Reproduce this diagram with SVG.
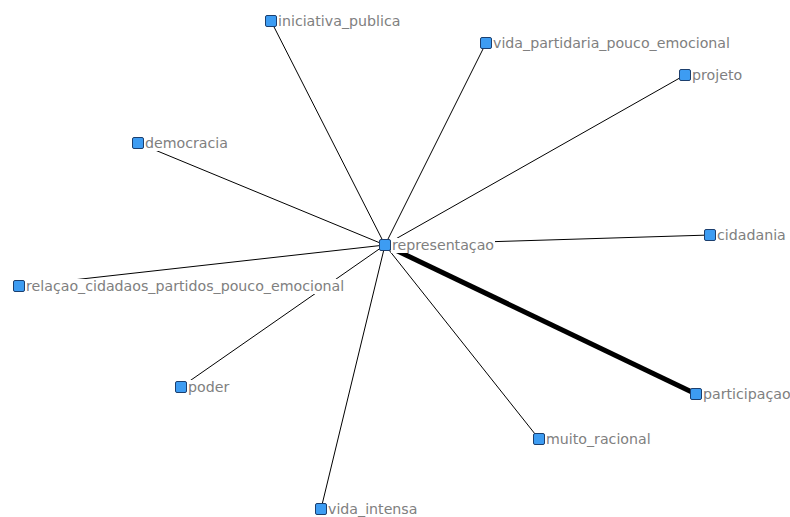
<svg xmlns="http://www.w3.org/2000/svg" width="790" height="517" viewBox="0 0 790 517">
  <style>
    .edge { stroke: #000; stroke-width: 1; fill: none; }
    .heavy { stroke-width: 5; }
    .node rect.box { fill: #3d9cf2; stroke: #1c3f6e; stroke-width: 1; }
    .node rect.bg { fill: #fff; }
    .node text { font-family: "DejaVu Sans", Verdana, sans-serif; font-size: 14.2px; fill: #808080; }
  </style>
  <rect width="790" height="517" fill="#fff"/>
  <g id="edges">
    <line class="edge" x1="385" y1="245" x2="271" y2="21"/>
    <line class="edge" x1="385" y1="245" x2="486" y2="43"/>
    <line class="edge" x1="385" y1="245" x2="685" y2="75"/>
    <line class="edge" x1="385" y1="245" x2="138" y2="143"/>
    <line class="edge" x1="385" y1="245" x2="710" y2="235"/>
    <line class="edge" x1="385" y1="245" x2="19" y2="286"/>
    <line class="edge" x1="385" y1="245" x2="181" y2="387"/>
    <line class="edge" x1="385" y1="245" x2="539" y2="439"/>
    <line class="edge" x1="385" y1="245" x2="321" y2="509"/>
    <line class="edge heavy" x1="385" y1="245" x2="696" y2="394"/>
  </g>
  <g id="n-representacao" class="node"><rect class="bg" x="391" y="238" width="104" height="15"/><rect class="box" x="379.5" y="239.5" width="11" height="11" rx="1.5"/><text x="392" y="250">representaçao</text></g>
  <g id="n-iniciativa_publica" class="node"><rect class="bg" x="277" y="14" width="124" height="15"/><rect class="box" x="265.5" y="15.5" width="11" height="11" rx="1.5"/><text x="278" y="26">iniciativa_publica</text></g>
  <g id="n-vida_partidaria" class="node"><rect class="bg" x="492" y="36" width="238" height="15"/><rect class="box" x="480.5" y="37.5" width="11" height="11" rx="1.5"/><text x="493" y="48">vida_partidaria_pouco_emocional</text></g>
  <g id="n-projeto" class="node"><rect class="bg" x="691" y="68" width="54" height="15"/><rect class="box" x="679.5" y="69.5" width="11" height="11" rx="1.5"/><text x="692" y="80">projeto</text></g>
  <g id="n-democracia" class="node"><rect class="bg" x="144" y="136" width="84" height="15"/><rect class="box" x="132.5" y="137.5" width="11" height="11" rx="1.5"/><text x="145" y="148">democracia</text></g>
  <g id="n-cidadania" class="node"><rect class="bg" x="716" y="228" width="70" height="15"/><rect class="box" x="704.5" y="229.5" width="11" height="11" rx="1.5"/><text x="717" y="240">cidadania</text></g>
  <g id="n-relacao" class="node"><rect class="bg" x="25" y="279" width="320" height="15"/><rect class="box" x="13.5" y="280.5" width="11" height="11" rx="1.5"/><text x="26" y="291">relaçao_cidadaos_partidos_pouco_emocional</text></g>
  <g id="n-poder" class="node"><rect class="bg" x="187" y="380" width="45" height="15"/><rect class="box" x="175.5" y="381.5" width="11" height="11" rx="1.5"/><text x="188" y="392">poder</text></g>
  <g id="n-participacao" class="node"><rect class="bg" x="702" y="387" width="88" height="15"/><rect class="box" x="690.5" y="388.5" width="11" height="11" rx="1.5"/><text x="703" y="399">participaçao</text></g>
  <g id="n-muito_racional" class="node"><rect class="bg" x="545" y="432" width="108" height="15"/><rect class="box" x="533.5" y="433.5" width="11" height="11" rx="1.5"/><text x="546" y="444">muito_racional</text></g>
  <g id="n-vida_intensa" class="node"><rect class="bg" x="327" y="502" width="92" height="15"/><rect class="box" x="315.5" y="503.5" width="11" height="11" rx="1.5"/><text x="328" y="514">vida_intensa</text></g>
</svg>
